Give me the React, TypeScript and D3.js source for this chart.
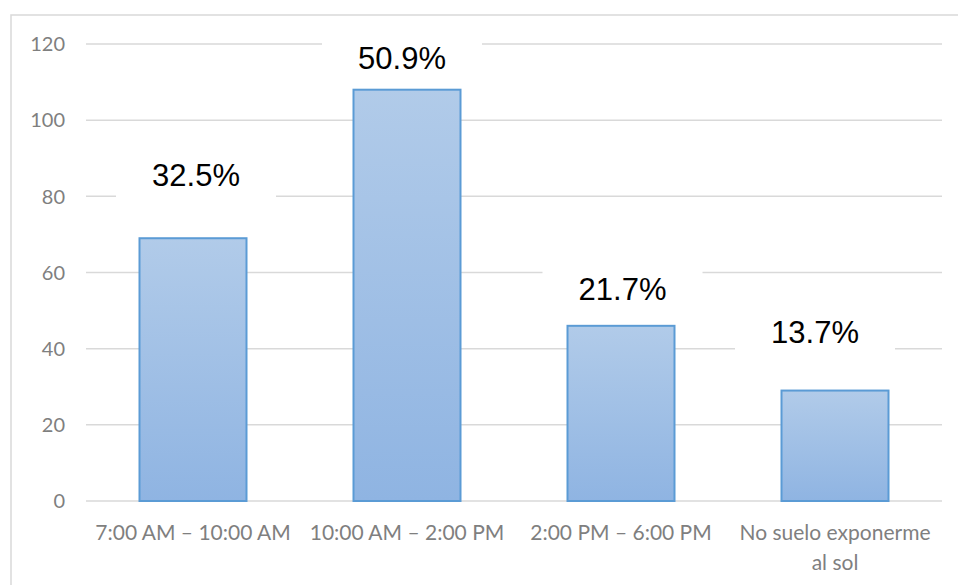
import React from "react";
import * as d3 from "d3";

// Respondents choosing each time slot (multiple answers allowed, n = 212)
const categories: string[][] = [
  ["7:00 AM – 10:00 AM"],
  ["10:00 AM – 2:00 PM"],
  ["2:00 PM – 6:00 PM"],
  ["No suelo exponerme", "al sol"],
];
const counts: number[] = [69, 108, 46, 29];
const percentLabels: string[] = ["32.5%", "50.9%", "21.7%", "13.7%"];
const yTicks: number[] = [0, 20, 40, 60, 80, 100, 120];

// Hand placement of each data label relative to its bar's top centre
const labelNudge: { dx: number; dy: number }[] = [
  { dx: 3, dy: -52 },
  { dx: -5, dy: -21 },
  { dx: 1.5, dy: -26 },
  { dx: -20, dy: -48 },
];

const W = 958;
const H = 585;
const plot = { left: 86, right: 942, top: 44, bottom: 501 };

export default function App() {
  const x = d3
    .scaleBand<number>()
    .domain(d3.range(counts.length))
    .range([plot.left, plot.right])
    .paddingInner(0.5)
    .paddingOuter(0.25);
  const y = d3.scaleLinear().domain([0, 120]).range([plot.bottom, plot.top]);

  const axisFont = "Lato, 'Open Sans', sans-serif";
  const axisColor = "#7f7f7f";

  return (
    <svg
      width={W}
      height={H}
      style={{ position: "absolute", left: 0, top: 0, background: "#fff" }}
    >
      <defs>
        <linearGradient id="barFill" x1="0" y1="0" x2="0" y2="1">
          <stop offset="0" stopColor="#b1cbe9" />
          <stop offset="1" stopColor="#8fb4e2" />
        </linearGradient>
      </defs>

      {/* chart frame */}
      <path
        d={`M11,${H + 2} L11,15 L${W + 2},15`}
        fill="none"
        stroke="#d9d9d9"
        strokeWidth={1.5}
      />

      {/* gridlines */}
      {yTicks.map((t) => (
        <line
          key={t}
          x1={plot.left}
          x2={plot.right}
          y1={y(t)}
          y2={y(t)}
          stroke="#d9d9d9"
          strokeWidth={1.5}
        />
      ))}

      {/* y tick labels */}
      {yTicks.map((t) => (
        <text
          key={t}
          x={65}
          y={y(t)}
          dy="0.36em"
          textAnchor="end"
          fontFamily={axisFont}
          fontSize={20}
          fill={axisColor}
        >
          {t}
        </text>
      ))}

      {/* bars */}
      {counts.map((v, i) => (
        <rect
          key={i}
          x={x(i)!}
          y={y(v)}
          width={x.bandwidth()}
          height={y(0) - y(v)}
          fill="url(#barFill)"
          stroke="#5b9bd5"
          strokeWidth={2}
        />
      ))}

      {/* data labels on white boxes */}
      {counts.map((v, i) => {
        const cx = x(i)! + x.bandwidth() / 2 + labelNudge[i].dx;
        const base = y(v) + labelNudge[i].dy;
        return (
          <g key={i}>
            <rect x={cx - 80} y={base - 32} width={160} height={46} fill="#fff" />
            <text
              x={cx}
              y={base}
              textAnchor="middle"
              fontFamily="'Liberation Sans', Arial, sans-serif"
              fontSize={31}
              fill="#000"
            >
              {percentLabels[i]}
            </text>
          </g>
        );
      })}

      {/* category labels */}
      {categories.map((lines, i) => (
        <text
          key={i}
          x={x(i)! + x.bandwidth() / 2}
          y={540}
          textAnchor="middle"
          fontFamily={axisFont}
          fontSize={21}
          fill={axisColor}
        >
          {lines.map((ln, j) => (
            <tspan key={j} x={x(i)! + x.bandwidth() / 2} dy={j === 0 ? 0 : 30}>
              {ln}
            </tspan>
          ))}
        </text>
      ))}
    </svg>
  );
}
